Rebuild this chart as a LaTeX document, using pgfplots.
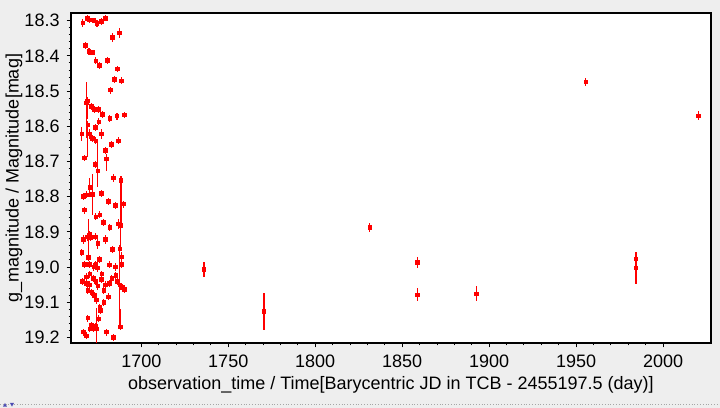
\documentclass[border=0pt]{standalone}
\usepackage{fontspec}
\setmainfont{Liberation Sans}
\usepackage{pgfplots}
\pgfplotsset{compat=1.18}
\usepackage{pgfplotstable}
\definecolor{bggray}{RGB}{238,238,238}

\pgfplotstableread{
x y ep em
1666.4 18.306 0.012 0.012
1668.9 18.293 0.010 0.010
1670.4 18.297 0.008 0.008
1672.7 18.299 0.008 0.008
1674.5 18.308 0.010 0.010
1677.0 18.301 0.010 0.010
1679.3 18.293 0.008 0.008
1683.3 18.348 0.012 0.012
1687.3 18.335 0.014 0.014
1667.8 18.370 0.010 0.010
1669.9 18.387 0.010 0.010
1671.8 18.390 0.008 0.008
1673.9 18.414 0.010 0.010
1680.4 18.412 0.010 0.010
1675.8 18.427 0.010 0.010
1686.2 18.437 0.008 0.008
1684.6 18.467 0.010 0.010
1688.7 18.471 0.010 0.010
1682.3 18.497 0.010 0.010
1668.4 18.533 0.100 0.060
1669.1 18.528 0.050 0.010
1671.2 18.543 0.010 0.010
1673.0 18.552 0.010 0.010
1675.3 18.552 0.010 0.010
1677.6 18.566 0.010 0.010
1681.9 18.578 0.010 0.010
1686.0 18.571 0.010 0.010
1690.4 18.568 0.008 0.008
1675.6 18.587 0.010 0.010
1673.5 18.603 0.010 0.010
1669.3 18.596 0.090 0.010
1665.8 18.622 0.020 0.020
1670.3 18.622 0.015 0.015
1672.0 18.634 0.010 0.010
1677.0 18.622 0.015 0.015
1673.9 18.641 0.010 0.010
1675.0 18.727 0.045 0.080
1679.3 18.668 0.010 0.010
1682.7 18.651 0.010 0.010
1686.9 18.641 0.010 0.010
1667.4 18.690 0.008 0.008
1673.5 18.708 0.010 0.010
1680.0 18.693 0.035 0.014
1684.1 18.747 0.010 0.010
1688.3 18.753 0.130 0.012
1670.4 18.774 0.028 0.028
1672.0 18.793 0.060 0.057
1677.0 18.791 0.010 0.010
1666.6 18.800 0.010 0.010
1668.5 18.795 0.010 0.010
1681.2 18.814 0.010 0.010
1685.0 18.825 0.010 0.010
1689.6 18.821 0.010 0.010
1667.4 18.838 0.010 0.010
1673.9 18.857 0.010 0.010
1676.2 18.852 0.010 0.010
1678.1 18.874 0.010 0.010
1681.9 18.888 0.010 0.010
1686.9 18.878 0.015 0.015
1688.1 18.882 0.070 0.010
1666.6 18.922 0.012 0.012
1668.9 18.914 0.012 0.012
1670.4 18.907 0.010 0.010
1670.8 18.916 0.010 0.010
1673.5 18.914 0.010 0.010
1675.0 18.933 0.015 0.015
1679.3 18.922 0.012 0.012
1683.5 18.950 0.010 0.010
1665.8 18.958 0.010 0.010
1669.7 18.973 0.010 0.110
1687.7 18.948 0.220 0.010
1667.4 18.992 0.010 0.010
1670.1 18.992 0.010 0.010
1673.9 18.992 0.010 0.010
1672.7 19.000 0.010 0.010
1675.8 18.978 0.010 0.010
1674.7 19.003 0.010 0.010
1681.6 18.994 0.010 0.010
1685.0 19.000 0.010 0.010
1688.8 18.971 0.015 0.015
1688.8 18.992 0.010 0.010
1666.2 19.041 0.010 0.010
1668.5 19.028 0.010 0.010
1670.4 19.020 0.010 0.010
1672.4 19.033 0.010 0.010
1668.5 19.047 0.010 0.010
1670.1 19.051 0.010 0.010
1673.9 19.041 0.010 0.010
1675.0 19.054 0.010 0.010
1677.3 19.020 0.010 0.010
1677.0 19.035 0.010 0.010
1679.3 19.051 0.010 0.010
1681.6 19.047 0.010 0.010
1683.1 19.032 0.010 0.010
1685.4 19.024 0.010 0.010
1686.2 19.041 0.010 0.010
1687.7 19.051 0.010 0.010
1689.2 19.058 0.010 0.010
1690.4 19.064 0.010 0.010
1669.3 19.066 0.010 0.010
1671.6 19.073 0.010 0.010
1673.1 19.081 0.010 0.010
1678.5 19.066 0.010 0.010
1681.2 19.085 0.010 0.010
1674.3 19.094 0.010 0.010
1676.2 19.115 0.010 0.010
1676.6 19.124 0.010 0.010
1678.5 19.100 0.010 0.010
1675.4 19.147 0.010 0.010
1669.3 19.145 0.010 0.010
1671.2 19.166 0.010 0.010
1672.4 19.174 0.010 0.010
1673.5 19.168 0.010 0.010
1670.4 19.176 0.010 0.010
1674.3 19.176 0.040 0.060
1666.6 19.185 0.010 0.010
1668.5 19.196 0.010 0.010
1680.0 19.185 0.010 0.010
1683.9 19.200 0.010 0.010
1688.1 19.170 0.010 0.050
1736.0 19.007 0.021 0.021
1770.5 19.127 0.053 0.053
1831.4 18.888 0.012 0.012
1858.6 18.987 0.015 0.015
1858.6 19.079 0.018 0.018
1892.5 19.076 0.022 0.022
1955.5 18.474 0.012 0.012
1984.4 18.977 0.020 0.020
1984.4 19.003 0.045 0.010
2020.3 18.570 0.013 0.013
}\gdata

\begin{document}
\begin{tikzpicture}
\fill[bggray] (-35.5pt,-32.5pt) rectangle (324.5pt,171.5pt);
\path[use as bounding box] (-35.5pt,-32.5pt) rectangle (324.5pt,171.5pt);
\draw[densely dotted, gray!70, line width=0.4pt] (-35.5pt,-30.8pt) -- (324.5pt,-30.8pt);
\fill[blue!40!gray] (-34pt,-31.8pt) -- (-32pt,-31.8pt) -- (-33pt,-30pt) -- cycle;
\fill[blue!40!gray] (-30.5pt,-30pt) -- (-28.5pt,-30pt) -- (-29.5pt,-31.8pt) -- cycle;
\begin{axis}[
  at={(0,0)}, anchor=south west,
  scale only axis, width=320pt, height=165pt,
  axis background/.style={fill=white},
  xmin=1659.6, xmax=2027.5,
  ymin=18.278, ymax=19.216, y dir=reverse,
  xtick={1700,1750,1800,1850,1900,1950,2000},
  ytick={18.3,18.4,18.5,18.6,18.7,18.8,18.9,19.0,19.1,19.2},
  minor x tick num=4, minor y tick num=4,
  tick align=outside, tick pos=left,
  major tick length=2.2pt, minor tick length=1.2pt,
  tick style={black, line width=0.5pt},
  axis line style={black, line width=0.7pt},
  /pgf/number format/assume math mode=true,
  /pgf/number format/1000 sep={},
  yticklabel style={/pgf/number format/.cd, fixed, fixed zerofill, precision=1},
  tick label style={font=\fontsize{9}{10}\selectfont},
  label style={font=\fontsize{9}{10}\selectfont},
  xlabel={observation\_time / Time[Barycentric JD in TCB - 2455197.5 (day)]},
  ylabel={g\_magnitude / Magnitude[mag]},
  x label style={at={(axis description cs:0.5,-0.127)}, anchor=center},
  y label style={at={(axis description cs:-0.089,0.5)}, anchor=center},
]
\addplot[only marks, mark=square*, mark size=0.9pt, color=red,
  mark options={draw=red, fill=red},
  error bars/.cd, y dir=both, y explicit, error mark=none,
  error bar style={line width=0.6pt, red}]
  table[x=x, y=y, y error plus=ep, y error minus=em] {\gdata};
\end{axis}
\end{tikzpicture}
\end{document}
